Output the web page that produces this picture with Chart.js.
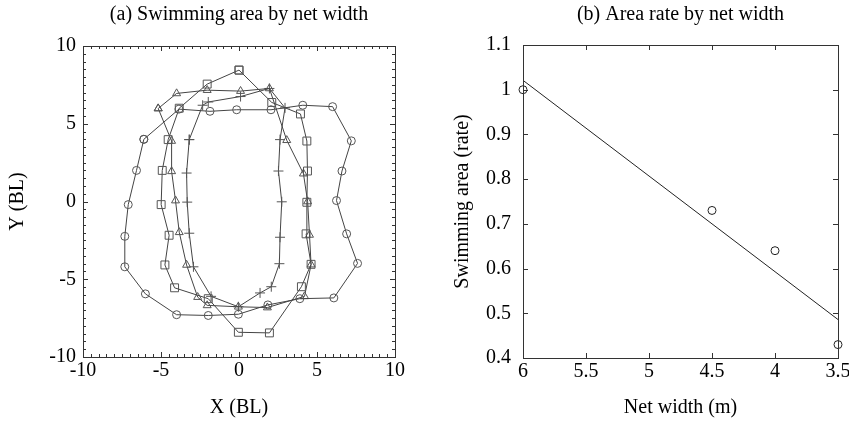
<!DOCTYPE html>
<html>
<head>
<meta charset="utf-8">
<script src="https://cdn.jsdelivr.net/npm/chart.js@4"></script>
<style>
  body { margin: 0; background: #fff; overflow: hidden; }
  .panel { position: absolute; top: 0; }
</style>
</head>
<body>
<div class="panel" style="left:0"><canvas id="areaChart" width="424" height="426"></canvas></div>
<div class="panel" style="left:424px"><canvas id="rateChart" width="430" height="426"></canvas></div>
<script>
// swimming area outlines (BL), one closed loop per net width
const circleX = [-6.1, -3.85, -1.86, -0.15, 2.05, 4.09, 6.0, 7.2, 6.6, 6.25, 6.9, 7.6, 6.08, 3.9, 1.85, -0.04, -1.97, -4.0, -6.0, -7.32, -7.32, -7.1, -6.57, -6.1];
const circleY = [4.0, 5.94, 5.8, 5.9, 5.9, 6.19, 6.1, 3.9, 1.96, 0.06, -2.08, -3.98, -6.2, -6.25, -6.65, -7.25, -7.33, -7.28, -5.94, -4.2, -2.24, -0.2, 2.0, 4.0];

const squareX = [0, -2.04, -3.83, -4.54, -4.92, -4.99, -4.48, -4.75, -4.13, -1.97, -0.04, 1.95, 4.0, 4.62, 4.3, 4.35, 4.39, 4.35, 3.94, 2.1, 0];
const squareY = [8.45, 7.55, 6.0, 3.98, 2.0, -0.2, -2.17, -4.08, -5.55, -6.25, -8.41, -8.45, -5.48, -4.04, -2.08, -0.05, 1.96, 3.89, 5.63, 6.37, 8.45];

const triX = [-5.18, -4.0, -2.04, 0.1, 1.95, 3.06, 4.13, 4.4, 4.52, 4.62, 4.2, 1.82, -0.04, -2.04, -2.65, -3.36, -3.83, -4.07, -4.32, -4.32, -5.18];
const triY = [5.98, 6.95, 7.16, 7.1, 7.27, 3.94, 1.79, 0.0, -2.15, -4.06, -6.1, -6.82, -6.77, -6.68, -6.15, -4.08, -1.98, 0.06, 1.94, 3.89, 5.98];

const plusX = [-3.19, -2.33, -1.97, 0.1, 1.95, 2.95, 2.63, 2.53, 2.74, 2.63, 2.59, 2.07, 1.35, -0.04, -1.79, -2.92, -3.19, -3.32, -3.36, -3.19];
const plusY = [3.98, 6.19, 6.4, 6.75, 7.27, 6.02, 3.98, 1.96, -0.02, -2.3, -4.0, -5.48, -5.88, -6.77, -6.1, -4.2, -2.04, -0.04, 1.83, 3.98];

// area rate against net width
const netWidth = [6, 4.5, 4, 3.5];
const areaRate = [1.0, 0.73, 0.64, 0.43];
const fitWidth = [6, 3.5];
const fitRate = [1.021, 0.486];

const serif = 'Liberation Serif';
Chart.defaults.color = '#000';
Chart.defaults.font.family = serif;
Chart.defaults.font.size = 20;

function points(xs, ys) {
    return xs.map((x, i) => ({ x: x, y: ys[i] }));
}

// 1.0 -> "1", 5.50 -> "5.5"
const plain = v => String(+v.toFixed(2));

// closed box with inward ticks on all four sides
const boxTicks = {
    id: 'boxTicks',
    afterDatasetsDraw(chart, args, opts) {
        const { ctx, chartArea: a, scales } = chart;
        ctx.save();
        ctx.strokeStyle = '#333';
        ctx.lineWidth = 1;
        ctx.beginPath();
        const tick = (scale, v, len) => {
            const p = Math.round(scale.getPixelForValue(v)) + 0.5;
            if (scale.isHorizontal()) {
                ctx.moveTo(p, a.bottom); ctx.lineTo(p, a.bottom - len);
                ctx.moveTo(p, a.top); ctx.lineTo(p, a.top + len);
            } else {
                ctx.moveTo(a.left, p); ctx.lineTo(a.left + len, p);
                ctx.moveTo(a.right, p); ctx.lineTo(a.right - len, p);
            }
        };
        [scales.x, scales.y].forEach(s => {
            if (opts.minor) {
                for (let v = s.min; v <= s.max + 1e-9; v += opts.minor) tick(s, v, 3);
            }
            s.ticks.forEach(t => tick(s, t.value, 5));
        });
        ctx.stroke();
        ctx.strokeRect(Math.round(a.left) + 0.5, Math.round(a.top) + 0.5,
            Math.round(a.right - a.left), Math.round(a.bottom - a.top));
        ctx.restore();
    }
};

function outline(label, xs, ys, style, r) {
    return {
        label: label,
        data: points(xs, ys),
        showLine: true,
        borderColor: '#444',
        borderWidth: 1,
        pointStyle: style,
        pointRadius: r,
        pointBorderColor: '#555',
        pointBorderWidth: 1,
        pointBackgroundColor: 'rgba(0,0,0,0)'
    };
}

new Chart(document.getElementById('areaChart'), {
    type: 'scatter',
    data: {
        datasets: [
            outline('circle', circleX, circleY, 'circle', 4),
            outline('square', squareX, squareY, 'rect', 5.6),
            outline('triangle', triX, triY, 'triangle', 4.6),
            outline('plus', plusX, plusY, 'cross', 5)
        ]
    },
    options: {
        responsive: false,
        animation: false,
        events: [],
        layout: { padding: { right: 29 } },
        plugins: {
            legend: { display: false },
            tooltip: { enabled: false },
            title: {
                display: true,
                fullSize: false,
                text: '(a) Swimming area by net width',
                color: '#000',
                font: { size: 20, weight: 'normal' },
                padding: { top: 3, bottom: 19 }
            },
            boxTicks: { minor: 0.5 }
        },
        scales: {
            x: {
                type: 'linear',
                min: -10,
                max: 10,
                ticks: { stepSize: 5, padding: 2 },
                grid: { display: false, drawTicks: false },
                border: { display: false },
                title: { display: true, text: 'X (BL)', padding: { top: 0, bottom: 6 } },
                afterFit: s => { s.height = 69; }
            },
            y: {
                type: 'linear',
                min: -10,
                max: 10,
                ticks: { stepSize: 5, padding: 7 },
                grid: { display: false, drawTicks: false },
                border: { display: false },
                title: { display: true, text: 'Y (BL)', padding: { top: 6, bottom: 0 } },
                afterFit: s => { s.width = 83; }
            }
        }
    },
    plugins: [boxTicks]
});

new Chart(document.getElementById('rateChart'), {
    type: 'scatter',
    data: {
        datasets: [
            {
                label: 'fit',
                data: points(fitWidth, fitRate),
                showLine: true,
                borderColor: '#222',
                borderWidth: 1,
                pointRadius: 0
            },
            {
                label: 'rate',
                data: points(netWidth, areaRate),
                pointStyle: 'circle',
                pointRadius: 4,
                pointBorderColor: '#222',
                pointBorderWidth: 1,
                pointBackgroundColor: 'rgba(0,0,0,0)',
                clip: false
            }
        ]
    },
    options: {
        responsive: false,
        animation: false,
        events: [],
        layout: { padding: { right: 16 } },
        plugins: {
            legend: { display: false },
            tooltip: { enabled: false },
            title: {
                display: true,
                fullSize: false,
                text: '(b) Area rate by net width',
                color: '#000',
                font: { size: 20, weight: 'normal' },
                padding: { top: 3, bottom: 18 }
            },
            boxTicks: { minor: 0 }
        },
        scales: {
            x: {
                type: 'linear',
                reverse: true,
                min: 3.5,
                max: 6,
                ticks: { stepSize: 0.5, padding: 2, callback: plain },
                grid: { display: false, drawTicks: false },
                border: { display: false },
                title: { display: true, text: 'Net width (m)', padding: { top: 0, bottom: 6 } },
                afterFit: s => { s.height = 68; }
            },
            y: {
                type: 'linear',
                min: 0.4,
                max: 1.1,
                ticks: { stepSize: 0.1, padding: 12, callback: plain },
                grid: { display: false, drawTicks: false },
                border: { display: false },
                title: { display: true, text: 'Swimming area (rate)', padding: { top: 27, bottom: 0 } },
                afterFit: s => { s.width = 99; }
            }
        }
    },
    plugins: [boxTicks]
});
</script>
</body>
</html>
